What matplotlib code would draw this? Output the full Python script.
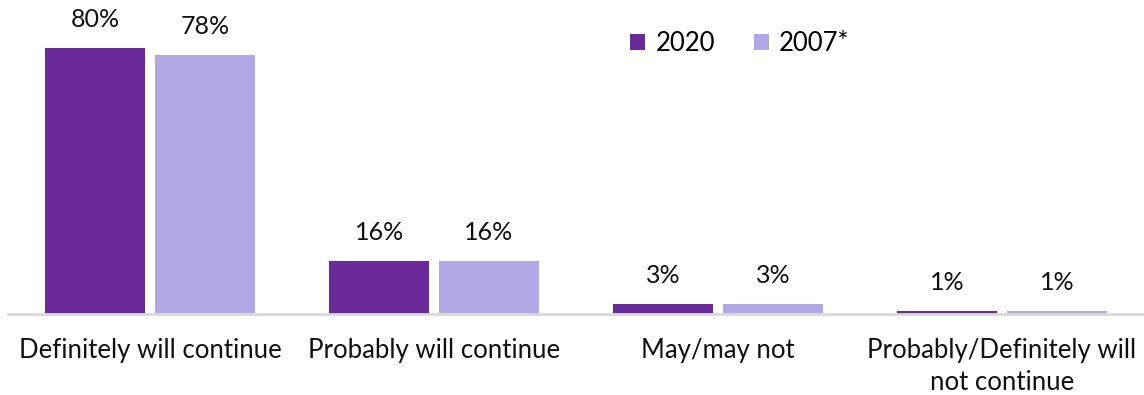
import matplotlib.pyplot as plt
import numpy as np

categories = ["Definitely will continue", "Probably will continue", "May/may not",
              "Probably/Definitely will\nnot continue"]
years = ["2020", "2007*"]
values_2020 = [80, 16, 3, 1]
values_2007 = [78, 16, 3, 1]
colors = ["#6A2A9A", "#B3A8E6"]

plt.rcParams["font.family"] = ["Lato", "DejaVu Sans"]

fig = plt.figure(figsize=(11.44, 3.95), dpi=100)
ax = fig.add_axes([0.007, 0.205, 0.993, 0.795])

x = np.arange(len(categories))
w = 0.35
gap = 0.018
bars1 = ax.bar(x - w / 2 - gap, values_2020, w, color=colors[0], label=years[0])
bars2 = ax.bar(x + w / 2 + gap, values_2007, w, color=colors[1], label=years[1])

for bars in (bars1, bars2):
    ax.bar_label(bars, labels=[f"{v}%" for v in bars.datavalues], padding=12,
                 fontsize=18, color="#111111")

ax.set_xlim(-0.5, 3.5)
ax.set_ylim(0, 94.4)
ax.set_yticks([])
ax.set_xticks(x)
ax.set_xticklabels(categories, fontsize=18.5, color="#111111", linespacing=1.35)
ax.tick_params(axis="x", length=0, pad=17)
for side in ("top", "right", "left"):
    ax.spines[side].set_visible(False)
ax.spines["bottom"].set_color("#d9d9d9")
ax.spines["bottom"].set_linewidth(2)

ax.legend(loc="upper left", bbox_to_anchor=(0.527, 0.975), ncol=2, frameon=False,
          fontsize=18.5, handlelength=0.6, handleheight=0.6, columnspacing=1.5,
          handletextpad=0.4)

fig.savefig("out.png", dpi=100)
